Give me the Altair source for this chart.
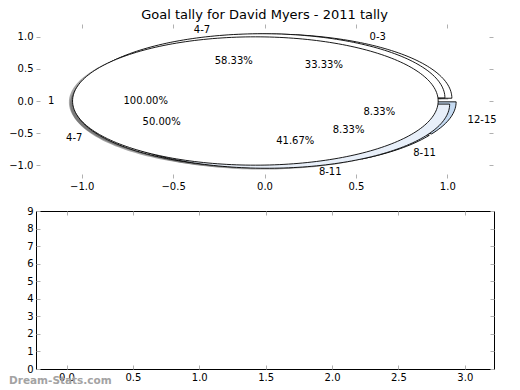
import numpy as np
import pandas as pd
import altair as alt

TITLE = "Goal tally for David Myers - 2011 tally"
WATERMARK = "Dream-Stats.com"

# three overlaid pies, listed from the bottom one to the top one
pie_labels = [["0-3", "4-7", "8-11", "12-15"], ["4-7", "8-11"], ["1"]]
pie_pcts = [[33.33, 50.00, 8.33, 8.33], [58.33, 41.67], [100.00]]
pie_fills = [["#ffffff", "#ffffff", "#dbe7f6", "#c5daf1"], ["#ffffff", "#e8eff9"], ["#ffffff"]]

top_x_ticks = [-1.0, -0.5, 0.0, 0.5, 1.0]
top_y_ticks = [-1.0, -0.5, 0.0, 0.5, 1.0]
bottom_x_ticks = [0.0, 0.5, 1.0, 1.5, 2.0, 2.5, 3.0]
bottom_y_ticks = [0, 1, 2, 3, 4, 5, 6, 7, 8, 9]

EXPLODE = 0.05
LABEL_R = 1.1
PCT_R = 0.6
SHADOW_OFF = 0.02

poly_rows, label_rows = [], []
for p, (labs, pcts, fills) in enumerate(zip(pie_labels, pie_pcts, pie_fills)):
    total = sum(pcts)
    acc = 0.0
    for i, (lab, pct, fc) in enumerate(zip(labs, pcts, fills)):
        t1 = 360.0 * acc / total
        acc += pct
        t2 = 360.0 * acc / total
        mid = np.radians((t1 + t2) / 2.0)
        cx, cy = EXPLODE * np.cos(mid), EXPLODE * np.sin(mid)
        n = int(np.ceil((t2 - t1) / 1.5)) + 1
        ang = np.radians(np.linspace(t1, t2, n))
        xs = list(cx + np.cos(ang))
        ys = list(cy + np.sin(ang))
        if t2 - t1 < 359.99:
            xs = [cx] + xs + [cx]
            ys = [cy] + ys + [cy]
        wid = f"{p}-{i}"
        for k, (x, y) in enumerate(zip(xs, ys)):
            poly_rows.append({"pie": p, "wedge": wid, "k": k, "x": x, "y": y,
                              "sx": x - SHADOW_OFF, "sy": y - SHADOW_OFF, "fc": fc})
        lx, ly = cx + LABEL_R * np.cos(mid), cy + LABEL_R * np.sin(mid)
        label_rows.append({"text": lab, "x": lx, "y": ly, "side": "left" if lx > 0 else "right"})
        label_rows.append({"text": f"{pct:.2f}%", "x": cx + PCT_R * np.cos(mid),
                           "y": cy + PCT_R * np.sin(mid), "side": "center"})

poly = pd.DataFrame(poly_rows)
labels = pd.DataFrame(label_rows)

FONT = "DejaVu Sans"
tick_style = dict(domain=False, grid=False, ticks=True, tickColor="#b0b0b0", tickSize=4,
                  tickWidth=1, offset=-4, labelFont=FONT, labelFontSize=10,
                  labelColor="black", labelPadding=3, title=None)

xs_top = alt.Scale(domain=[-1.25, 1.25], nice=False, zero=False)
ys_top = alt.Scale(domain=[-1.2, 1.2], nice=False, zero=False)

shadow = alt.Chart(poly).mark_line(fill="#4d4d4d", fillOpacity=0.5, strokeOpacity=0).encode(
    x=alt.X("sx:Q", scale=xs_top,
            axis=alt.Axis(values=top_x_ticks, format=".1f", orient="bottom", **tick_style)),
    y=alt.Y("sy:Q", scale=ys_top,
            axis=alt.Axis(values=top_y_ticks, format=".1f", orient="left", **tick_style)),
    detail="wedge:N", order="k:Q")

ticks_tr = alt.Chart(pd.DataFrame({"x": top_x_ticks, "y": top_y_ticks})).mark_point(opacity=0).encode(
    x=alt.X("x:Q", scale=xs_top,
            axis=alt.Axis(values=top_x_ticks, orient="top", labels=False, **tick_style)),
    y=alt.Y("y:Q", scale=ys_top,
            axis=alt.Axis(values=top_y_ticks, orient="right", labels=False, **tick_style)))

wedge_layers = []
for p in range(len(pie_labels)):
    wedge_layers.append(
        alt.Chart(poly).transform_filter(alt.datum.pie == p)
        .mark_line(stroke="black", strokeWidth=0.9, strokeJoin="round")
        .encode(x=alt.X("x:Q", scale=xs_top, axis=None),
                y=alt.Y("y:Q", scale=ys_top, axis=None),
                fill=alt.Fill("fc:N", scale=None),
                detail="wedge:N", order="k:Q"))

text_layers = []
for side in ["left", "right", "center"]:
    text_layers.append(
        alt.Chart(labels).transform_filter(alt.datum.side == side)
        .mark_text(align=side, baseline="middle", font=FONT, fontSize=10, color="black")
        .encode(x=alt.X("x:Q", scale=xs_top, axis=None),
                y=alt.Y("y:Q", scale=ys_top, axis=None),
                text="text:N"))

top = alt.layer(shadow, ticks_tr, *wedge_layers, *text_layers).properties(
    width=457, height=154,
    title=alt.TitleParams(TITLE, font=FONT, fontSize=13, fontWeight="normal",
                          anchor="middle", frame="group", offset=2, color="black"),
    view=alt.ViewBackground(stroke="transparent"))

xs_bot = alt.Scale(domain=[-0.23, 3.22], nice=False, zero=False)
ys_bot = alt.Scale(domain=[0, 9], nice=False, zero=False)
frame_df = pd.DataFrame({"x": [bottom_x_ticks[0], bottom_x_ticks[-1]],
                         "y": [bottom_y_ticks[0], bottom_y_ticks[-1]]})

bot_axes = alt.Chart(frame_df).mark_point(opacity=0).encode(
    x=alt.X("x:Q", scale=xs_bot,
            axis=alt.Axis(values=bottom_x_ticks, format=".1f", orient="bottom", **tick_style)),
    y=alt.Y("y:Q", scale=ys_bot,
            axis=alt.Axis(values=bottom_y_ticks, format="d", orient="left", **tick_style)))
bot_axes2 = alt.Chart(frame_df).mark_point(opacity=0).encode(
    x=alt.X("x:Q", scale=xs_bot,
            axis=alt.Axis(values=bottom_x_ticks, orient="top", labels=False, **tick_style)),
    y=alt.Y("y:Q", scale=ys_bot,
            axis=alt.Axis(values=bottom_y_ticks, orient="right", labels=False, **tick_style)))
wm = alt.Chart(pd.DataFrame({"t": [WATERMARK]})).mark_text(
    align="left", baseline="middle", font=FONT, fontSize=10.5, fontWeight="bold",
    color="#a3a3a3").encode(text="t:N", x=alt.value(-27), y=alt.value(170))

bottom = alt.layer(bot_axes, bot_axes2, wm).properties(
    width=458, height=158,
    view=alt.ViewBackground(stroke="black", strokeWidth=1))

chart = alt.vconcat(top, bottom, spacing=13).properties(
    padding={"left": 0, "top": 0, "right": 5, "bottom": 0})

chart.save("out.html", embed_options={"renderer": "svg", "actions": False})
